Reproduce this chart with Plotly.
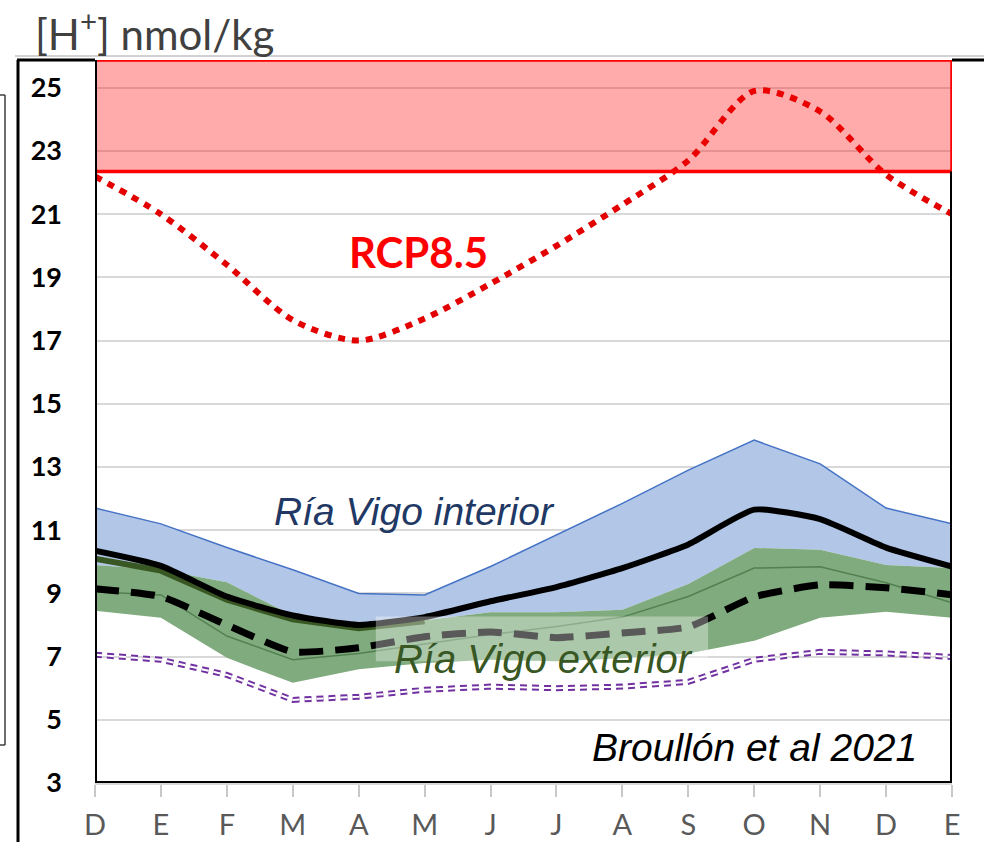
import plotly.graph_objects as go

# Monthly axis (Dec .. Jan of the following year)
months = ["D", "E", "F", "M", "A", "M", "J", "J", "A", "S", "O", "N", "D", "E"]
x = list(range(len(months)))

# [H+] in nmol/kg
rcp85 = [22.2, 21.0, 19.4, 17.65, 17.0, 17.7, 18.8, 20.0, 21.3, 22.7, 24.9, 24.25, 22.25, 21.0]
int_hi = [11.7, 11.2, 10.45, 9.75, 9.0, 8.95, 9.85, 10.85, 11.85, 12.9, 13.85, 13.1, 11.7, 11.2]
int_mean = [10.35, 9.87, 8.9, 8.3, 8.0, 8.25, 8.75, 9.2, 9.8, 10.55, 11.65, 11.35, 10.45, 9.85]
ext_hi = [9.9, 9.75, 9.35, 8.3, 7.95, 8.15, 8.4, 8.4, 8.48, 9.3, 10.44, 10.38, 9.9, 9.8]
ext_q3 = [10.1, 9.72, 8.8, 8.18, 7.9, 8.12]
ext_mid = [9.05, 8.95, 7.65, 6.9, 7.1, 7.4, 7.7, 7.95, 8.25, 8.9, 9.8, 9.84, 9.34, 8.7]
ext_lo = [8.45, 8.23, 6.96, 6.17, 6.6, 6.8, 6.9, 6.85, 6.95, 7.1, 7.5, 8.23, 8.42, 8.23]
ext_mean = [9.15, 8.9, 8.0, 7.15, 7.28, 7.63, 7.78, 7.6, 7.75, 7.94, 8.89, 9.27, 9.18, 8.96]
pre_ind = [7.06, 6.9, 6.42, 5.63, 5.73, 5.95, 6.05, 6.0, 6.05, 6.2, 6.9, 7.15, 7.1, 6.99]

y_ticks = list(range(3, 27, 2))
threshold_low = 22.35
y_top = 25.88

# plot-area pixel geometry used for paper-referenced decorations
L, R, T, B = 95, 952, 60, 783
W_FIG, H_FIG = 984, 842
def px(xp):
    return (xp - L) / (R - L)
def py(yp):
    return (B - yp) / (B - T)

fig = go.Figure()

# interior range band
fig.add_trace(go.Scatter(x=x, y=ext_hi, mode="lines", line=dict(width=0),
                         showlegend=False, hoverinfo="skip"))
fig.add_trace(go.Scatter(x=x, y=int_hi, mode="lines", fill="tonexty",
                         fillcolor="rgb(178,198,232)",
                         line=dict(color="rgb(68,114,196)", width=1.5),
                         showlegend=False))

# exterior range band
fig.add_trace(go.Scatter(x=x, y=ext_lo, mode="lines", line=dict(width=0),
                         showlegend=False, hoverinfo="skip"))
fig.add_trace(go.Scatter(x=x, y=ext_hi, mode="lines", fill="tonexty",
                         fillcolor="rgb(128,171,126)",
                         line=dict(width=0), showlegend=False))
fig.add_trace(go.Scatter(x=x[:len(ext_q3)], y=ext_q3, mode="lines",
                         line=dict(color="rgb(56,87,35)", width=6),
                         showlegend=False))
fig.add_trace(go.Scatter(x=x, y=ext_mid, mode="lines",
                         line=dict(color="rgb(82,128,80)", width=1.5),
                         showlegend=False))

# pre-industrial reference (double dashed line)
fig.add_trace(go.Scatter(x=x, y=pre_ind, mode="lines",
                         line=dict(color="rgb(112,48,160)", width=6, dash="7px,5px"),
                         showlegend=False))
fig.add_trace(go.Scatter(x=x, y=pre_ind, mode="lines",
                         line=dict(color="white", width=2, dash="7px,5px"),
                         showlegend=False, hoverinfo="skip"))

# means
fig.add_trace(go.Scatter(x=x, y=int_mean, mode="lines",
                         line=dict(color="black", width=6, shape="spline", smoothing=0.5),
                         showlegend=False))
fig.add_trace(go.Scatter(x=x, y=ext_mean, mode="lines",
                         line=dict(color="black", width=7, dash="24px,12px",
                                   shape="spline", smoothing=0.5),
                         showlegend=False))

# RCP8.5 projection
fig.add_trace(go.Scatter(x=x, y=rcp85, mode="lines",
                         line=dict(color="rgb(226,0,0)", width=6, dash="7px,7px",
                                   shape="spline", smoothing=0.8),
                         showlegend=False))

shapes = [
    # threshold zone
    dict(type="rect", xref="x", yref="y", x0=0, x1=13, y0=threshold_low, y1=y_top,
         fillcolor="rgba(255,0,0,0.33)", line=dict(color="red", width=3.5), layer="above"),
    # label backdrop
    dict(type="rect", xref="x", yref="y", x0=4.26, x1=9.3, y0=6.85, y1=8.27,
         fillcolor="rgba(255,255,255,0.35)", line=dict(width=0), layer="above"),
    # plot frame
    dict(type="line", xref="x", yref="y", x0=0, x1=0, y0=3, y1=y_top,
         line=dict(color="black", width=4), layer="above"),
    dict(type="line", xref="x", yref="y", x0=13, x1=13, y0=3, y1=threshold_low,
         line=dict(color="black", width=4), layer="above"),
    dict(type="line", xref="x", yref="y", x0=0, x1=13, y0=3, y1=3,
         line=dict(color="black", width=4), layer="above"),
    # outer frame pieces
    dict(type="line", xref="paper", yref="paper", x0=px(15), x1=px(984), y0=py(56), y1=py(56),
         line=dict(color="rgb(210,210,210)", width=2)),
    dict(type="line", xref="paper", yref="paper", x0=px(17), x1=px(95), y0=py(60), y1=py(60),
         line=dict(color="black", width=3)),
    dict(type="line", xref="paper", yref="paper", x0=px(952), x1=px(984), y0=py(60), y1=py(60),
         line=dict(color="black", width=3)),
    dict(type="line", xref="paper", yref="paper", x0=px(18), x1=px(18), y0=py(60), y1=py(842),
         line=dict(color="black", width=3)),
    dict(type="line", xref="paper", yref="paper", x0=px(5), x1=px(5), y0=py(95), y1=py(745),
         line=dict(color="rgb(60,60,60)", width=1.5)),
    dict(type="line", xref="paper", yref="paper", x0=px(0), x1=px(5), y0=py(95), y1=py(95),
         line=dict(color="rgb(60,60,60)", width=1.5)),
    dict(type="line", xref="paper", yref="paper", x0=px(0), x1=px(5), y0=py(745), y1=py(745),
         line=dict(color="rgb(60,60,60)", width=1.5)),
]

annotations = [
    dict(text="[H<sup>+</sup>] nmol/kg", xref="paper", yref="paper", x=px(33), y=py(31),
         xanchor="left", yanchor="middle", showarrow=False,
         font=dict(family="Lato", size=42, color="rgb(64,64,64)")),
    dict(text="<b>RCP8.5</b>", xref="x", yref="y", x=4.9, y=19.8, showarrow=False,
         font=dict(family="Lato", size=42, color="rgb(255,0,0)")),
    dict(text="<i>Ría Vigo interior</i>", xref="x", yref="y", x=4.85, y=11.6, showarrow=False,
         font=dict(family="Liberation Sans", size=39, color="rgb(31,56,100)")),
    dict(text="<i>Ría Vigo exterior</i>", xref="x", yref="y", x=6.81, y=6.92, showarrow=False,
         font=dict(family="Liberation Sans", size=40, color="rgb(56,87,35)")),
    dict(text="<i>Broullón et al 2021</i>", xref="x", yref="y", x=10.0, y=4.12, showarrow=False,
         font=dict(family="Liberation Sans", size=39, color="black")),
]

fig.update_layout(
    width=W_FIG, height=H_FIG,
    margin=dict(l=L, r=W_FIG - R, t=T, b=H_FIG - B),
    paper_bgcolor="white", plot_bgcolor="white",
    shapes=shapes, annotations=annotations,
    xaxis=dict(range=[0, 13], tickmode="array", tickvals=x, ticktext=months,
               automargin=False,
               showgrid=False, zeroline=False, showline=True,
               linecolor="rgb(217,217,217)", linewidth=1.5,
               ticks="outside", ticklen=12, tickcolor="rgb(200,200,200)", tickwidth=1.5,
               ticklabelstandoff=3,
               tickfont=dict(family="Lato", size=29, color="rgb(89,89,89)")),
    yaxis=dict(range=[3, y_top], tickmode="array", tickvals=y_ticks,
               automargin=False,
               showgrid=True, gridcolor="rgb(217,217,217)", gridwidth=1.5,
               zeroline=False, showline=False, ticks="", ticklabelstandoff=32,
               tickfont=dict(family="Lato", size=27, color="black", weight="bold")),
)

fig.write_html("out.html")
